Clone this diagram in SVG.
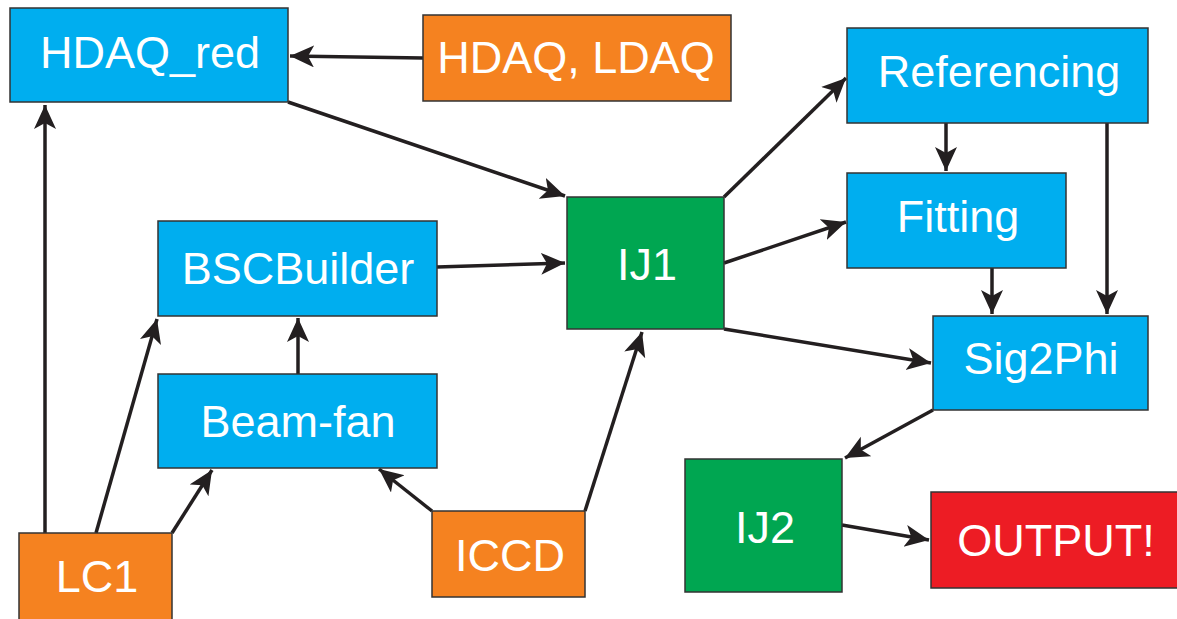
<svg xmlns="http://www.w3.org/2000/svg" width="1177" height="619" viewBox="0 0 1177 619">
<style>
.n{stroke:#333;stroke-width:1.5}
.b{fill:#00AEEF}.o{fill:#F58220}.g{fill:#00A651}.r{fill:#ED1C24}
.t{font-family:"Liberation Sans",Arial,sans-serif;font-size:45px;fill:#fff;text-anchor:middle}
.e{stroke:#231F20;stroke-width:3.5;fill:none;marker-end:url(#ah)}
</style>
<defs>
<marker id="ah" markerUnits="userSpaceOnUse" markerWidth="26" markerHeight="24" viewBox="0 0 26 24" refX="24" refY="11" orient="auto">
<path d="M0,0 L24,11 L0,22 L6,11 Z" fill="#231F20"/>
</marker>
</defs>
<rect width="1177" height="619" fill="#fff"/>
<g id="edges">
<path class="e" d="M423,58 L290,56"/>
<path class="e" d="M288,102 L565,196"/>
<path class="e" d="M45,533 L45,105"/>
<path class="e" d="M96,533 L157,319"/>
<path class="e" d="M172,533 L212,470"/>
<path class="e" d="M432,511 L379,469"/>
<path class="e" d="M298,374 L298,318"/>
<path class="e" d="M437,267 L565,263"/>
<path class="e" d="M585,511 L642,332"/>
<path class="e" d="M724,197 L846,78"/>
<path class="e" d="M724,263 L846,222"/>
<path class="e" d="M724,329 L931,363"/>
<path class="e" d="M946,123 L946,171"/>
<path class="e" d="M1107,123 L1107,314"/>
<path class="e" d="M992,268 L992,314"/>
<path class="e" d="M933,410 L845,458"/>
<path class="e" d="M842,525 L929,540"/>
</g>
<g id="HDAQ_red"><rect class="n b" x="10" y="8" width="278" height="94"/><text class="t" x="150" y="68">HDAQ_red</text></g>
<g id="HDAQ_LDAQ"><rect class="n o" x="423" y="15" width="308" height="86"/><text class="t" x="576" y="73">HDAQ, LDAQ</text></g>
<g id="BSCBuilder"><rect class="n b" x="158" y="221" width="279" height="95"/><text class="t" x="298" y="284">BSCBuilder</text></g>
<g id="Beam-fan"><rect class="n b" x="158" y="374" width="279" height="94"/><text class="t" x="298" y="437">Beam-fan</text></g>
<g id="LC1"><rect class="n o" x="19" y="533" width="153" height="95"/><text class="t" x="97" y="592">LC1</text></g>
<g id="ICCD"><rect class="n o" x="432" y="511" width="153" height="86"/><text class="t" x="510" y="571">ICCD</text></g>
<g id="IJ1"><rect class="n g" x="567" y="197" width="157" height="132"/><text class="t" x="647" y="280">IJ1</text></g>
<g id="Referencing"><rect class="n b" x="847" y="28" width="301" height="95"/><text class="t" x="999" y="87">Referencing</text></g>
<g id="Fitting"><rect class="n b" x="847" y="173" width="219" height="95"/><text class="t" x="958" y="232">Fitting</text></g>
<g id="Sig2Phi"><rect class="n b" x="933" y="316" width="215" height="94"/><text class="t" x="1041" y="374">Sig2Phi</text></g>
<g id="IJ2"><rect class="n g" x="685" y="459" width="157" height="133"/><text class="t" x="765" y="543">IJ2</text></g>
<g id="OUTPUT"><rect class="n r" x="931" y="492" width="250" height="96"/><text class="t" x="1056" y="556">OUTPUT!</text></g>
</svg>
